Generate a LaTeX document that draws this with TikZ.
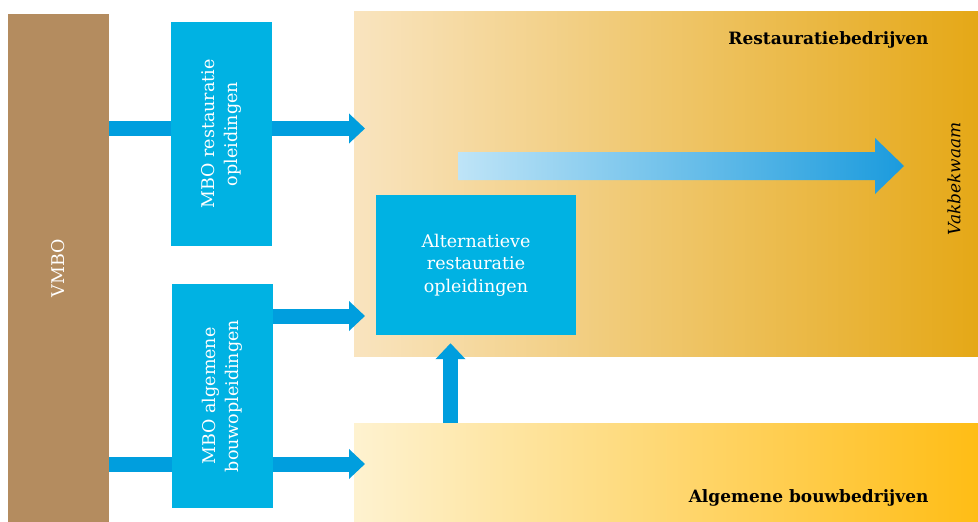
\documentclass[tikz,border=0pt]{standalone}
\usepackage{fontspec}
\setmainfont{DejaVu Serif}
\usetikzlibrary{arrows.meta,positioning,calc}
\definecolor{vmbobrown}{RGB}{180,140,95}
\definecolor{boxblue}{RGB}{0,178,227}
\definecolor{arrowblue}{RGB}{0,158,222}
\definecolor{restlight}{RGB}{249,228,191}
\definecolor{restdark}{RGB}{229,168,23}
\definecolor{bouwlight}{RGB}{254,242,208}
\definecolor{bouwdark}{RGB}{255,189,21}
\definecolor{pijllight}{RGB}{190,228,247}
\definecolor{pijldark}{RGB}{27,155,221}

\begin{document}
\begin{tikzpicture}[x=1pt,y=-1pt,
  blok/.style={fill=boxblue, inner sep=0pt},
  wittext/.style={text=white, align=center, font=\fontsize{17.5}{22.5}\selectfont},
  label/.style={font=\fontsize{17}{20}\selectfont\bfseries},
  band/.style={anchor=north west, inner sep=0pt},
  balk/.style={arrowblue, line width=15pt},
  pijl/.style={arrowblue, line width=15pt, -{Triangle[length=16pt,width=29pt]}}]
\useasboundingbox (0,0) rectangle (978,522);

\node[band, minimum width=624pt, minimum height=345pt, left color=restlight, right color=restdark] (resta) at (354,11) {};
\node[band, minimum width=624pt, minimum height=99pt, left color=bouwlight, right color=bouwdark] (bouw) at (354,423) {};

\node[fill=vmbobrown, inner sep=0pt, minimum width=101pt, minimum height=508pt] (vmbo) at (58.5,268) {};
\node[wittext, rotate=90] at (vmbo.center) {VMBO};

\node[blok, minimum width=101pt, minimum height=224pt] (mborest) at (221.5,134) {};
\node[wittext, rotate=90] at (mborest.center) {MBO restauratie\\opleidingen};

\node[blok, minimum width=101pt, minimum height=224pt] (mboalg) at (222.5,396) {};
\node[wittext, rotate=90] at (mboalg.center) {MBO algemene\\bouwopleidingen};

\node[blok, minimum width=200pt, minimum height=140pt] (alt) at (476,265) {};
\node[wittext] at (alt.center) {Alternatieve\\restauratie\\opleidingen};

\node[label, anchor=base east] (restlabel) at (932,45) {Restauratiebedrijven};
\node[label, anchor=base east] (bouwlabel) at (932,502) {Algemene bouwbedrijven};
\node[rotate=90, font=\fontsize{17}{20}\selectfont\itshape] (vak) at (954,179) {Vakbekwaam};

\coordinate (hoog) at (0,128.5);
\coordinate (midden) at (0,316);
\coordinate (laag) at (0,464);
\coordinate (omhoog) at (450.5,0);

\draw[balk] (vmbo.east |- hoog) -- (mborest.west |- hoog);
\draw[pijl] (mborest.east |- hoog) -- ($(resta.west |- hoog)+(11,0)$);
\draw[pijl] (mboalg.east |- midden) -- ($(resta.west |- midden)+(11,0)$);
\draw[balk] (vmbo.east |- laag) -- (mboalg.west |- laag);
\draw[pijl] (mboalg.east |- laag) -- ($(bouw.west |- laag)+(11,0)$);
\draw[pijl] (bouw.north -| omhoog) -- ($(alt.south -| omhoog)+(0,8)$);

\shade[left color=pijllight, right color=pijldark]
 (458,152) -- (875,152) -- (875,138) -- (904,166) -- (875,194) -- (875,180) -- (458,180) -- cycle;
\end{tikzpicture}
\end{document}
